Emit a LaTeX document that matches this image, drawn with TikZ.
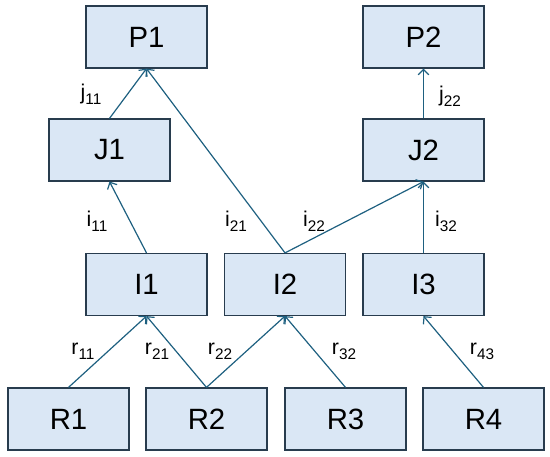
\documentclass[tikz,border=0pt]{standalone}
\usepackage{fontspec}
\setmainfont{Liberation Sans}
\usetikzlibrary{calc}
\usetikzlibrary{arrows.meta}
\definecolor{boxfill}{RGB}{218,231,245}
\definecolor{boxline}{RGB}{40,60,78}
\definecolor{arrowline}{RGB}{30,96,128}
\tikzstyle{unit}=[draw=boxline,fill=boxfill,line width=0.9pt,minimum width=90.75pt,minimum height=46.5pt,inner sep=0pt,font=\fontsize{22}{24}\selectfont]
\tikzstyle{link}=[arrowline,line width=0.9pt,-{Straight Barb[length=4pt,width=8pt]}]
\tikzstyle{weight}=[inner sep=0pt,font=\fontsize{16}{18}\selectfont]
\newcommand{\wlabel}[2]{#1\raisebox{-0.45ex}{\fontsize{11.5}{13}\selectfont #2}}

\begin{document}
\begin{tikzpicture}[x=0.75pt,y=-0.75pt]
	\useasboundingbox (0,0) rectangle (550,457);
	% top row
	\node[unit] (P1) at (146.5,37) {P1};
	\node[unit] (P2) at (423.5,37) {P2};
	% second row
	\node[unit] (J1) at (109.5,150) {J1};
	\node[unit] (J2) at (423.5,150) {J2};
	% third row
	\node[unit] (I1) at (146.5,284.5) {I1};
	\node[unit] (I2) at (285,284.5) {I2};
	\node[unit] (I3) at (423.5,284.5) {I3};
	% bottom row
	\node[unit] (R1) at (68.5,419) {R1};
	\node[unit] (R2) at (206.5,419) {R2};
	\node[unit] (R3) at (345.5,419) {R3};
	\node[unit] (R4) at (483.5,419) {R4};
	% connectors
	\draw[link] (J1.north) -- (P1.south);
	\draw[link] (I2.north) -- (P1.south);
	\draw[link] (J2.north) -- (P2.south);
	\draw[link] (I1.north) -- (J1.south);
	\draw[link] (I2.north) -- (J2.south);
	\draw[link] (I3.north) -- (J2.south);
	\draw[link] (R1.north) -- (I1.south);
	\draw[link] (R2.north) -- (I1.south);
	\draw[link] (R2.north) -- (I2.south);
	\draw[link] (R3.north) -- (I2.south);
	\draw[link] (R4.north) -- (I3.south);
	% weights
	\node[weight] (j11) at (91,94) {\wlabel{j}{11}};
	\node[weight] (j22) at (450,96) {\wlabel{j}{22}};
	\node[weight] (i11) at (97,221) {\wlabel{i}{11}};
	\node[weight] (i21) at (236,221) {\wlabel{i}{21}};
	\node[weight] (i22) at (314,221) {\wlabel{i}{22}};
	\node[weight] (i32) at (446,221) {\wlabel{i}{32}};
	\node[weight] (r11) at (83,351) {\wlabel{r}{11}};
	\node[weight] (r21) at (157,351) {\wlabel{r}{21}};
	\node[weight] (r22) at (220,351) {\wlabel{r}{22}};
	\node[weight] (r32) at (344,351) {\wlabel{r}{32}};
	\node[weight] (r43) at (482,351) {\wlabel{r}{43}};
\end{tikzpicture}
\end{document}
